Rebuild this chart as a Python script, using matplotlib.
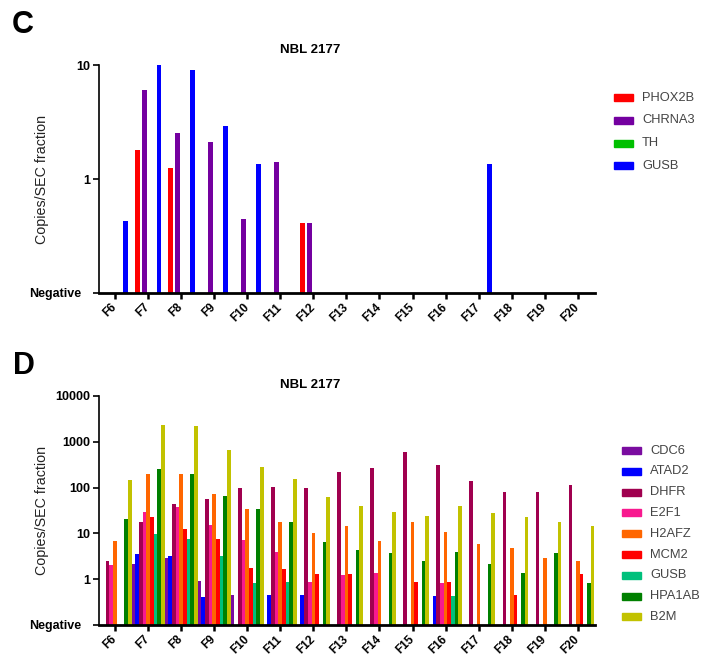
import matplotlib
matplotlib.use("Agg")
import matplotlib.pyplot as plt
from matplotlib.patches import Rectangle
import numpy as np

plt.rcParams['font.family'] = ['Liberation Sans', 'DejaVu Sans']

nan = np.nan
fractions = ['F6', 'F7', 'F8', 'F9', 'F10', 'F11', 'F12', 'F13',
             'F14', 'F15', 'F16', 'F17', 'F18', 'F19', 'F20']

# panel C  (nan = negative)
genes_c = ['PHOX2B', 'CHRNA3', 'TH', 'GUSB']
colors_c = ['#FF0000', '#7400A0', '#00C000', '#0000FF']
phox2b = [nan, 1.8, 1.26, nan, nan, nan, 0.41, nan, nan, nan, nan, nan, nan, nan, nan]
chrna3 = [nan, 6.0, 2.55, 2.1, 0.45, 1.42, 0.41, nan, nan, nan, nan, nan, nan, nan, nan]
th = [nan] * 15
gusb_c = [0.43, 10.0, 9.0, 2.9, 1.35, nan, nan, nan, nan, nan, nan, 1.35, nan, nan, nan]

# panel D
genes_d = ['CDC6', 'ATAD2', 'DHFR', 'E2F1', 'H2AFZ', 'MCM2', 'GUSB', 'HPA1AB', 'B2M']
colors_d = ['#7A0CA0', '#0000FF', '#A0004F', '#F8198F', '#FF6600', '#FF0000',
            '#00C07C', '#008000', '#C2C200']
cdc6 = [nan, 2.19, 2.86, 0.92, 0.45, nan, nan, nan, nan, nan, nan, nan, nan, nan, nan]
atad2 = [nan, 3.5, 3.2, 0.41, nan, 0.45, 0.45, nan, nan, nan, 0.42, nan, nan, nan, nan]
dhfr = [2.46, 18, 43, 57, 97, 105, 98, 218, 267, 590, 305, 137, 81, 81, 112]
e2f1 = [2.05, 29, 38, 15, 7.2, 4.0, 0.87, 1.22, 1.39, nan, 0.82, nan, nan, nan, nan]
h2afz = [6.7, 200, 200, 73, 34, 17.5, 10.2, 14.3, 6.9, 17.5, 11, 6.0, 4.9, 2.9, 2.5]
mcm2 = [nan, 22.5, 12.2, 7.7, 1.8, 1.7, 1.3, 1.3, nan, 0.875, 0.875, nan, 0.45, nan, 1.3]
gusb_d = [nan, 9.5, 7.6, 3.26, 0.82, 0.87, nan, nan, nan, nan, 0.42, nan, nan, nan, nan]
hpa1ab = [20.7, 260, 200, 65, 34, 17.5, 6.4, 4.3, 3.8, 2.5, 4.0, 2.2, 1.4, 3.8, 0.82]
b2m = [143, 2300, 2200, 660, 285, 157, 62, 39, 30, 24, 39, 28, 23, 17.5, 14.3]

W, H = 711, 672
fig = plt.figure(figsize=(W / 100, H / 100), dpi=100)


def px_axes(left, top, right, bottom):
    return fig.add_axes([left / W, 1 - bottom / H, (right - left) / W, (bottom - top) / H])


def draw_panel(ax, series, colors, slot, width, ymax, yticks, ylabels):
    x = np.arange(len(fractions))
    n = len(series)
    for i, (vals, col) in enumerate(zip(series, colors)):
        v = np.array(vals, dtype=float)
        ok = ~np.isnan(v)
        pos = x + (i - (n - 1) / 2) * slot
        ax.bar(pos[ok], v[ok] - 0.1, width=width, bottom=0.1, color=col, linewidth=0)
    ax.set_yscale('log')
    ax.set_ylim(0.1, ymax)
    ax.set_xlim(-0.484, 14.52)
    ax.set_yticks(yticks)
    ax.set_yticklabels(ylabels, fontweight='bold', fontsize=9)
    ax.yaxis.set_minor_locator(matplotlib.ticker.NullLocator())
    ax.set_xticks(x)
    ax.set_xticklabels(fractions, rotation=45, ha='right', va='center',
                       rotation_mode='anchor', fontweight='bold', fontsize=8.5)
    for s in ['top', 'right']:
        ax.spines[s].set_visible(False)
    ax.spines['left'].set_linewidth(1.2)
    ax.spines['bottom'].set_linewidth(2.0)
    ax.tick_params(axis='y', length=4.5, width=1.2, pad=2)
    ax.tick_params(axis='x', length=4.5, width=1.8, pad=4.5)
    ax.yaxis.get_major_ticks()[0].set_pad(8)
    ax.set_ylabel('Copies/SEC fraction', fontsize=10.3, color='#222222')
    ax.yaxis.set_label_coords(-50 / 496, 0.5)


ax_c = px_axes(99, 65, 595, 293)
draw_panel(ax_c, [phox2b, chrna3, th, gusb_c], colors_c, 0.221, 0.15, 10,
           [0.1, 1, 10], ['Negative', '1', '10'])

ax_d = px_axes(99, 396, 595, 625)
draw_panel(ax_d, [cdc6, atad2, dhfr, e2f1, h2afz, mcm2, gusb_d, hpa1ab, b2m],
           colors_d, 1 / 9, 1 / 9, 10000,
           [0.1, 1, 10, 100, 1000, 10000], ['Negative', '1', '10', '100', '1000', '10000'])

# panel letters and titles
fig.text(12 / W, 1 - 25 / H, 'C', fontsize=22, fontweight='bold', va='center', ha='left')
fig.text(13 / W, 1 - 366 / H, 'D', fontsize=22, fontweight='bold', va='center', ha='left')
fig.text(310 / W, 1 - 50 / H, 'NBL 2177', fontsize=9.5, fontweight='bold', ha='center', va='center')
fig.text(310 / W, 1 - 385 / H, 'NBL 2177', fontsize=9.5, fontweight='bold', ha='center', va='center')


def legend(genes, colors, x0, y0, dy):
    for k, (g, c) in enumerate(zip(genes, colors)):
        yc = y0 + k * dy
        fig.patches.append(Rectangle((x0 / W, 1 - (yc + 3.5) / H), 19 / W, 7 / H,
                                     color=c, transform=fig.transFigure, figure=fig))
        fig.text((x0 + 28) / W, 1 - yc / H, g, fontsize=9.3, color='#444444',
                 va='center', ha='left')


legend(genes_c, colors_c, 614, 97.7, 22.7)
legend(genes_d, colors_d, 622, 450.5, 20.8)

fig.savefig('out.png', dpi=100)
